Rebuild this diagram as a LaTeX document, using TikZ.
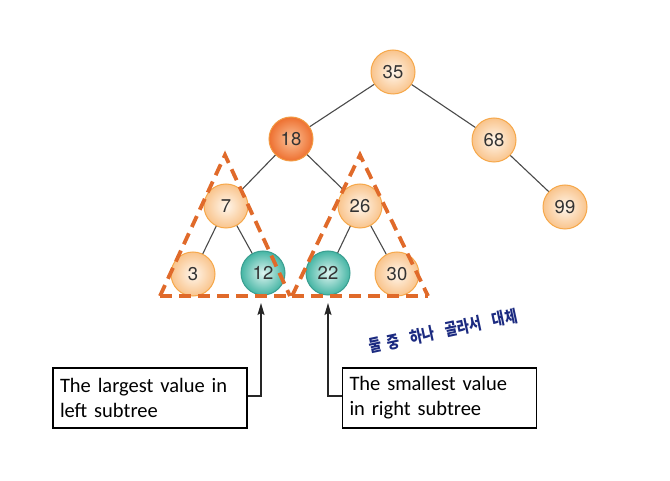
\documentclass[tikz,border=0pt]{standalone}
\usepackage{fontspec}
\setmainfont{Carlito}
\newfontfamily\numfont{TeX Gyre Heros}
\newfontfamily\krfont[FakeStretch=0.8]{Noto Sans CJK KR}
\usetikzlibrary{arrows.meta,calc}
\definecolor{orIn}{HTML}{FFF6EC}
\definecolor{orOut}{HTML}{F9C48C}
\definecolor{orEdge}{HTML}{F6A84A}
\definecolor{dkIn}{HTML}{FBC39A}
\definecolor{dkOut}{HTML}{EE7030}
\definecolor{dkEdge}{HTML}{F29A42}
\definecolor{tlIn}{HTML}{DDF4F0}
\definecolor{tlOut}{HTML}{45B5A4}
\definecolor{tlEdge}{HTML}{3A9E90}
\definecolor{dashc}{HTML}{E06A2A}
\definecolor{edgec}{HTML}{4A4A4A}
\definecolor{pen}{HTML}{1B2A80}
\tikzset{
  x=1pt,y=1pt,
  bnode/.style={circle, minimum size=44pt, inner sep=0pt, line width=1pt,
    draw=orEdge, shading=radial, inner color=orIn, outer color=orOut,
    font=\numfont\fontsize{18.5}{20}\selectfont, text=black!80},
  hnode/.style={bnode, draw=dkEdge, inner color=dkIn, outer color=dkOut},
  tnode/.style={bnode, draw=tlEdge, inner color=tlIn, outer color=tlOut},
  tedge/.style={draw=edgec, line width=1.1pt},
  tri/.style={draw=dashc, line width=3.8pt, dash pattern=on 12pt off 7pt},
  lbl/.style={draw=black, line width=1.3pt, fill=white, minimum width=194pt,
    minimum height=60pt, text width=180pt, align=left, inner sep=7pt,
    font=\fontsize{20.5}{25}\selectfont},
  arr/.style={draw=black!85, line width=1.3pt, -{Stealth[length=12pt,width=7pt,inset=2pt]}},
}
\begin{document}
\begin{tikzpicture}
\useasboundingbox (0,0) rectangle (670,-481);
% tree edges (drawn first)
\coordinate (c35) at (393,-72);
\coordinate (c18) at (291,-139);
\coordinate (c68) at (494,-140);
\coordinate (c7) at (226,-206);
\coordinate (c26) at (360,-206);
\coordinate (c99) at (565,-207);
\coordinate (c3) at (193,-274);
\coordinate (c12) at (263,-273);
\coordinate (c22) at (328,-273);
\coordinate (c30) at (397,-274);
\draw[tedge] (c35) -- (c18) (c35) -- (c68) (c68) -- (c99)
  (c18) -- (c7) (c18) -- (c26) (c7) -- (c3) (c7) -- (c12)
  (c26) -- (c22) (c26) -- (c30);
\node[bnode] (n35) at (c35) {35};
\node[hnode] (n18) at (c18) {18};
\node[bnode] (n68) at (c68) {68};
\node[bnode] (n7) at (c7) {7};
\node[bnode] (n26) at (c26) {26};
\node[bnode] (n99) at (c99) {99};
\node[bnode] (n3) at (c3) {3};
\node[tnode] (n12) at (c12) {12};
\node[tnode] (n22) at (c22) {22};
\node[bnode] (n30) at (c30) {30};
% dashed triangles
\coordinate (la) at (225,-155);
\coordinate (ll) at (160,-296);
\coordinate (lr) at (290,-296);
\coordinate (ra) at (360,-155);
\coordinate (rl) at (292,-296);
\coordinate (rr) at (428,-296);
\draw[tri] (ll) -- (la) -- (lr);
\draw[tri] (ll) -- (lr);
\draw[tri] (rl) -- (ra) -- (rr);
\draw[tri] (rl) -- (rr);
% boxes
\node[lbl] (lbox) at (150,-398) {The largest value in\\left subtree};
\node[lbl] (rbox) at (439.5,-398) {The smallest value\\in right subtree};
\coordinate (lt) at (261,-303);
\coordinate (rt) at (328,-303);
\draw[arr] ([yshift=2pt]lbox.east) -| (lt);
\draw[arr] ([yshift=2pt]rbox.west) -| (rt);
% handwritten note
\node[rotate=12, text=pen, font=\krfont\bfseries\fontsize{17}{19}\selectfont] (note) at (443,-331)
  {둘\hspace{6pt}중\hspace{11pt}하나\hspace{11pt}골라서\hspace{11pt}대체};
\end{tikzpicture}
\end{document}
